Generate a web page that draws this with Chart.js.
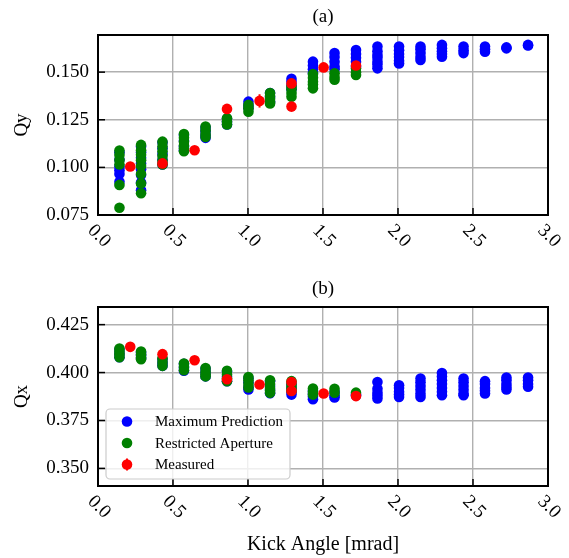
<!DOCTYPE html>
<html>
<head>
<meta charset="utf-8">
<script src="https://cdn.jsdelivr.net/npm/chart.js@4.4.1/dist/chart.umd.min.js"></script>
<style>
body { margin: 0; background: #fff; }
#wrap { position: relative; width: 569px; height: 558px; }
canvas { position: absolute; left: 0; }
</style>
</head>
<body>
<div id="wrap">
  <canvas id="chartQy" width="569" height="262" style="top:0"></canvas>
  <canvas id="chartQx" width="569" height="296" style="top:262px"></canvas>
</div>
<script>
// Kick angles of the simulated columns [mrad]
const kickSim = [0.143, 0.287, 0.43, 0.573, 0.717, 0.86, 1.003, 1.147, 1.29, 1.433,
                 1.577, 1.72, 1.863, 2.007, 2.15, 2.293, 2.437, 2.58, 2.723, 2.867];

// Qy - maximum prediction (one list per column)
const qyMax = [
    [0.1080, 0.1040, 0.1004, 0.0985, 0.0965, 0.0925],
    [0.1110, 0.1080, 0.1050, 0.1020, 0.0990, 0.0960, 0.0920, 0.0880],
    [0.1130, 0.1100, 0.1070, 0.1040, 0.1015],
    [0.1170, 0.1140, 0.1110, 0.1090],
    [0.1210, 0.1190, 0.1170, 0.1155],
    [0.1255, 0.1240, 0.1225],
    [0.1345, 0.1325, 0.1310],
    [0.1390, 0.1370, 0.1345],
    [0.1465, 0.1450, 0.1430, 0.1410],
    [0.1555, 0.1535, 0.1515, 0.1495],
    [0.1600, 0.1580, 0.1555, 0.1530, 0.1515],
    [0.1616, 0.1595, 0.1575, 0.1555, 0.1530],
    [0.1634, 0.1610, 0.1590, 0.1575, 0.1555, 0.1540, 0.1520],
    [0.1634, 0.1615, 0.1595, 0.1580, 0.1560, 0.1546],
    [0.1634, 0.1620, 0.1600, 0.1580, 0.1564],
    [0.1643, 0.1625, 0.1610, 0.1595, 0.1581],
    [0.1634, 0.1615, 0.1600],
    [0.1634, 0.1620, 0.1607],
    [0.1630, 0.1625],
    [0.1643, 0.1640]
];

// Qy - restricted aperture
const qyRestricted = [
    [0.1088, 0.1065, 0.1039, 0.1015, 0.0908, 0.0788],
    [0.1118, 0.1090, 0.1066, 0.1037, 0.1007, 0.0965, 0.0916, 0.0864],
    [0.1135, 0.1110, 0.1085, 0.1060, 0.1035, 0.1015],
    [0.1175, 0.1155, 0.1135, 0.1115, 0.1100, 0.1085],
    [0.1215, 0.1195, 0.1175, 0.1160],
    [0.1258, 0.1240, 0.1225],
    [0.1328, 0.1310, 0.1292],
    [0.1390, 0.1375, 0.1360, 0.1345, 0.1336],
    [0.1424, 0.1410, 0.1390, 0.1371],
    [0.1490, 0.1470, 0.1450, 0.1435, 0.1415],
    [0.1494, 0.1475, 0.1460],
    [0.1520, 0.1500, 0.1485]
];

// Qx - maximum prediction
const qxMax = [
    [0.4120, 0.4100, 0.4080],
    [0.4105, 0.4090, 0.4075],
    [0.4070, 0.4050, 0.4035],
    [0.4045, 0.4025, 0.4010],
    [0.4020, 0.4000, 0.3980],
    [0.4005, 0.3980, 0.3955],
    [0.3970, 0.3950, 0.3925, 0.3912],
    [0.3955, 0.3930, 0.3910, 0.3892],
    [0.3940, 0.3920, 0.3900, 0.3885],
    [0.3905, 0.3890, 0.3875, 0.3861],
    [0.3900, 0.3880, 0.3870],
    [0.3885, 0.3880],
    [0.3951, 0.3915, 0.3895, 0.3880, 0.3865],
    [0.3934, 0.3920, 0.3900, 0.3885, 0.3873],
    [0.3969, 0.3950, 0.3930, 0.3910, 0.3890, 0.3873],
    [0.3998, 0.3980, 0.3960, 0.3940, 0.3920, 0.3900, 0.3882],
    [0.3969, 0.3950, 0.3930, 0.3910, 0.3890, 0.3882],
    [0.3955, 0.3940, 0.3920, 0.3905, 0.3891],
    [0.3974, 0.3960, 0.3940, 0.3925, 0.3912],
    [0.3974, 0.3960, 0.3940, 0.3926]
];

// Qx - restricted aperture
const qxRestricted = [
    [0.4125, 0.4110, 0.4095, 0.4080],
    [0.4110, 0.4095, 0.4080, 0.4070],
    [0.4075, 0.4055, 0.4035],
    [0.4047, 0.4030, 0.4012],
    [0.4024, 0.4005, 0.3990, 0.3980],
    [0.4009, 0.3990, 0.3970, 0.3955],
    [0.3977, 0.3960, 0.3940, 0.3922],
    [0.3960, 0.3940, 0.3920, 0.3905, 0.3894],
    [0.3955, 0.3935, 0.3920, 0.3905],
    [0.3917, 0.3900, 0.3885],
    [0.3915, 0.3895],
    [0.3895]
];

// Measured points with error bars
const kickMeas = [0.215, 0.43, 0.644, 0.86, 1.077, 1.29, 1.29, 1.504, 1.72];
const qyMeas = [0.1005, 0.1021, 0.1090, 0.1307, 0.1349, 0.1441, 0.1319, 0.1525, 0.1535];
const qyErr = [0.0008, 0.0008, 0.0018, 0.0008, 0.0035, 0.0008, 0.0008, 0.0008, 0.0020];
const qxMeas = [0.4134, 0.4096, 0.4064, 0.3965, 0.3938, 0.3951, 0.3904, 0.3891, 0.3877];
const qxErr = [0.0006, 0.0006, 0.0006, 0.0006, 0.0006, 0.0006, 0.0006, 0.0006, 0.0006];

// Axis ticks
const xTicks = [0, 0.5, 1.0, 1.5, 2.0, 2.5, 3.0];
const qyTicks = [0.075, 0.100, 0.125, 0.150];
const qxTicks = [0.350, 0.375, 0.400, 0.425];

const FONT = '"Liberation Serif", "Times New Roman", serif';

function toPoints(xs, cols) {
    const pts = [];
    cols.forEach((col, i) => col.forEach(v => pts.push({ x: xs[i], y: v })));
    return pts;
}

function makePanel(canvasId, p) {
    // Cuadro, marcas hacia dentro, textos y leyenda
    const panelPlugin = {
        id: 'panel' + canvasId,
        afterDatasetsDraw(chart) {
            const ctx = chart.ctx;
            const xs = chart.scales.x, ys = chart.scales.y;
            ctx.save();
            ctx.strokeStyle = '#ff0000';
            ctx.lineWidth = 2;
            p.measX.forEach((x, i) => {
                const px = xs.getPixelForValue(x);
                ctx.beginPath();
                ctx.moveTo(px, ys.getPixelForValue(p.measY[i] - p.err[i]));
                ctx.lineTo(px, ys.getPixelForValue(p.measY[i] + p.err[i]));
                ctx.stroke();
            });
            ctx.restore();
        },
        afterDraw(chart) {
            const ctx = chart.ctx;
            const a = chart.chartArea;
            const xs = chart.scales.x, ys = chart.scales.y;
            ctx.save();
            // frame
            ctx.strokeStyle = '#000';
            ctx.lineWidth = 2;
            ctx.strokeRect(a.left, a.top, a.right - a.left, a.bottom - a.top);
            // inward ticks
            ctx.lineWidth = 1.5;
            xTicks.forEach(v => {
                const px = xs.getPixelForValue(v);
                ctx.beginPath();
                ctx.moveTo(px, a.bottom);
                ctx.lineTo(px, a.bottom - 7);
                ctx.stroke();
            });
            p.yTicks.forEach(v => {
                const py = ys.getPixelForValue(v);
                ctx.beginPath();
                ctx.moveTo(a.left, py);
                ctx.lineTo(a.left + 7, py);
                ctx.stroke();
            });
            // rotated x tick labels
            ctx.fillStyle = '#000';
            ctx.font = '19px ' + FONT;
            ctx.textAlign = 'center';
            ctx.textBaseline = 'middle';
            xTicks.forEach(v => {
                ctx.save();
                ctx.translate(xs.getPixelForValue(v) + 1, a.bottom + 21);
                ctx.rotate(Math.PI / 4);
                ctx.fillText(v.toFixed(1), 0, 0);
                ctx.restore();
            });
            // title
            const cx = (a.left + a.right) / 2;
            ctx.fillText(p.title, cx, p.titleY);
            // y label
            ctx.save();
            ctx.translate(22, (a.top + a.bottom) / 2);
            ctx.rotate(-Math.PI / 2);
            ctx.fillText(p.ylabel, 0, 0);
            ctx.restore();
            // x label
            if (p.xlabel) {
                ctx.font = '20px ' + FONT;
                ctx.fillText(p.xlabel, cx, a.bottom + 59);
            }
            // legend
            if (p.legend) {
                const L = p.legend;
                ctx.fillStyle = 'rgba(255,255,255,0.8)';
                ctx.strokeStyle = '#cccccc';
                ctx.lineWidth = 1.2;
                ctx.beginPath();
                ctx.roundRect(L.x, L.y, L.w, L.h, 4);
                ctx.fill();
                ctx.stroke();
                ctx.font = '15px ' + FONT;
                ctx.textAlign = 'left';
                L.items.forEach((it, i) => {
                    const ry = L.y + 12.5 + i * 21.5;
                    if (it.err) {
                        ctx.strokeStyle = it.color;
                        ctx.lineWidth = 2;
                        ctx.beginPath();
                        ctx.moveTo(L.x + 21, ry - 6);
                        ctx.lineTo(L.x + 21, ry + 6);
                        ctx.stroke();
                    }
                    ctx.fillStyle = it.color;
                    ctx.beginPath();
                    ctx.arc(L.x + 21, ry, 5.3, 0, Math.PI * 2);
                    ctx.fill();
                    ctx.fillStyle = '#000';
                    ctx.fillText(it.label, L.x + 49, ry + 1);
                });
            }
            ctx.restore();
        }
    };

    const ctx = document.getElementById(canvasId).getContext('2d');
    return new Chart(ctx, {
        type: 'scatter',
        data: {
            datasets: [
                {
                    label: 'Measured',
                    data: p.measX.map((x, i) => ({ x: x, y: p.measY[i] })),
                    backgroundColor: '#ff0000',
                    borderWidth: 0,
                    pointRadius: 5.3,
                    order: 0
                },
                {
                    label: 'Restricted Aperture',
                    data: toPoints(kickSim, p.restricted),
                    backgroundColor: '#008000',
                    borderWidth: 0,
                    pointRadius: 5.3,
                    order: 1
                },
                {
                    label: 'Maximum Prediction',
                    data: toPoints(kickSim, p.max),
                    backgroundColor: '#0000ff',
                    borderWidth: 0,
                    pointRadius: 5.3,
                    order: 2
                }
            ]
        },
        options: {
            responsive: false,
            animation: false,
            layout: { padding: { top: p.padTop, right: 21, left: 0, bottom: 0 } },
            scales: {
                x: {
                    type: 'linear',
                    min: 0,
                    max: 3,
                    afterBuildTicks: s => { s.ticks = xTicks.map(v => ({ value: v })); },
                    afterFit: s => { s.height = p.xHeight; },
                    ticks: { display: false },
                    grid: { color: '#b0b0b0', lineWidth: 1.4, drawTicks: false },
                    border: { display: false }
                },
                y: {
                    min: p.yMin,
                    max: p.yMax,
                    afterBuildTicks: s => { s.ticks = p.yTicks.map(v => ({ value: v })); },
                    afterFit: s => { s.width = 98; },
                    ticks: {
                        padding: 9,
                        color: '#000',
                        font: { family: FONT, size: 19 },
                        callback: v => v.toFixed(3)
                    },
                    grid: { color: '#b0b0b0', lineWidth: 1.4, drawTicks: false },
                    border: { display: false }
                }
            },
            plugins: {
                legend: { display: false },
                tooltip: { enabled: false }
            }
        },
        plugins: [panelPlugin]
    });
}

const legendItems = [
    { label: 'Maximum Prediction', color: '#0000ff' },
    { label: 'Restricted Aperture', color: '#008000' },
    { label: 'Measured', color: '#ff0000', err: true }
];

makePanel('chartQy', {
    title: '(a)', titleY: 17, ylabel: 'Qy',
    padTop: 35, xHeight: 47,
    yMin: 0.075, yMax: 0.1695, yTicks: qyTicks,
    max: qyMax, restricted: qyRestricted,
    measX: kickMeas, measY: qyMeas, err: qyErr
});

makePanel('chartQx', {
    title: '(b)', titleY: 27, ylabel: 'Qx', xlabel: 'Kick Angle [mrad]',
    padTop: 45, xHeight: 72,
    yMin: 0.3408, yMax: 0.4342, yTicks: qxTicks,
    max: qxMax, restricted: qxRestricted,
    measX: kickMeas, measY: qxMeas, err: qxErr,
    legend: { x: 106, y: 147, w: 184, h: 70, items: legendItems }
});
</script>
</body>
</html>
